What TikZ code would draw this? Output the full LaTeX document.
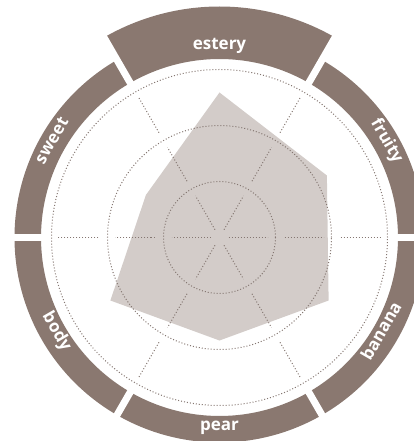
\documentclass[tikz,border=0pt]{standalone}
\usepackage{fontspec}
\newfontfamily\lblfont{Open Sans}
\definecolor{band}{HTML}{8A7870}
\definecolor{poly}{HTML}{D3CCC9}
\definecolor{dotc}{HTML}{857772}
\begin{document}
\begin{tikzpicture}[x=1pt,y=1pt,
  gapline/.style={draw=white,line width=7pt},
  dotline/.style={draw=dotc,line width=1pt,dash pattern=on 1pt off 2pt},
  lbl/.style={text=white,font=\lblfont\bfseries\fontsize{17}{19}\selectfont,inner sep=0pt,anchor=mid},
  area/.style={fill=poly}]
\useasboundingbox (-219.5,-203.5) rectangle (194.5,237.5);
% ring segments
\foreach \a/\ro in {90/231,30/205,-30/205,-90/205,210/205,150/205}{
  \pgfmathsetmacro{\sa}{\a-30}
  \pgfmathsetmacro{\ea}{\a+30}
  \fill[band] (\sa:178.5) arc[start angle=\sa,end angle=\ea,radius=178.5]
    -- (\ea:\ro) arc[start angle=\ea,end angle=\sa,radius=\ro] -- cycle;
}
\foreach \a in {0,60,...,300}
  \draw[gapline] (\a:170) -- (\a:240);
% data polygon
\fill[area] (90:145) -- (30:124) -- (-30:126) -- (-90:103) -- (210:126) -- (150:85) -- cycle;
% grid
\foreach \r in {56,112,168}
  \draw[dotline] (0,0) circle[radius=\r];
\foreach \a in {0,60,...,300}
  \foreach \r/\s in {9/48,65/104,121/161}
    \draw[dotline] (\a:\r) -- (\a:\s);
% labels
\node[lbl] (estery) at (90:190.5) {estery};
\node[lbl,rotate=-60] (fruity) at (30:190.5) {fruity};
\node[lbl,rotate=60] (banana) at (-30:190.5) {banana};
\node[lbl] (pear) at (-90:190.5) {pear};
\node[lbl,rotate=-60] (body) at (210:190.5) {body};
\node[lbl,rotate=60] (sweet) at (150:190.5) {sweet};
\end{tikzpicture}
\end{document}
